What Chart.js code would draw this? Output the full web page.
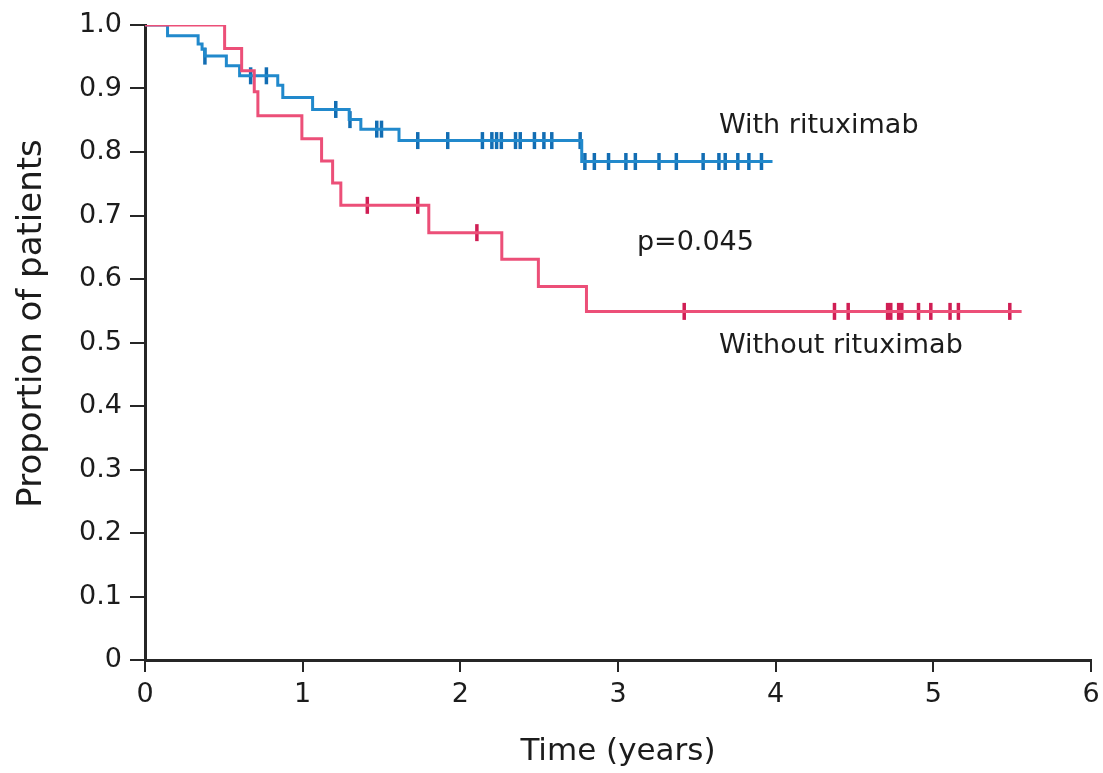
<!DOCTYPE html>
<html>
<head>
<meta charset="utf-8">
<title>Proportion of patients</title>
<script src="https://cdn.jsdelivr.net/npm/chart.js@4/dist/chart.umd.min.js"></script>
<style>
    body { margin: 0; background: #fff; }
    canvas { display: block; }
</style>
</head>
<body>
<canvas id="kmChart" width="1103" height="773"></canvas>
<script>
// Kaplan-Meier steps (time in years, proportion after each drop)
const withTimes = [0, 0.143, 0.337, 0.362, 0.379, 0.516, 0.600, 0.842, 0.874, 1.063, 1.295, 1.369, 1.611, 2.77, 3.98];
const withSurv = [1, 0.983, 0.970, 0.962, 0.951, 0.936, 0.920, 0.905, 0.886, 0.867, 0.851, 0.836, 0.818, 0.785, 0.785];
const withCensored = [0.38, 0.67, 0.77, 1.21, 1.30, 1.47, 1.50, 1.73, 1.92, 2.14, 2.20, 2.23, 2.26, 2.35, 2.38,
    2.47, 2.53, 2.58, 2.76, 2.79, 2.85, 2.94, 3.05, 3.11, 3.26, 3.37, 3.54, 3.64, 3.68, 3.76, 3.83, 3.91];

const withoutTimes = [0, 0.505, 0.613, 0.693, 0.716, 0.995, 1.12, 1.19, 1.242, 1.80, 2.263, 2.495, 2.80, 5.56];
const withoutSurv = [1, 0.963, 0.928, 0.895, 0.857, 0.821, 0.786, 0.751, 0.716, 0.673, 0.631, 0.588, 0.549, 0.549];
const withoutCensored = [1.41, 1.73, 2.105, 3.42, 4.373, 4.46, 4.71, 4.73, 4.78, 4.80, 4.906, 4.984, 5.106, 5.159, 5.485];

const xTicks = [0, 1, 2, 3, 4, 5, 6];
const yTicks = [0, 0.1, 0.2, 0.3, 0.4, 0.5, 0.6, 0.7, 0.8, 0.9, 1.0];

const labels = [
    { text: 'With rituximab', x: 3.64, y: 0.830 },
    { text: 'p=0.045', x: 3.12, y: 0.646 },
    { text: 'Without rituximab', x: 3.64, y: 0.483 }
];
const yTitle = 'Proportion of patients';

const blue = '#2189cc';
const blueDark = '#126db3';
const red = '#ec4f78';
const redDark = '#d01e54';
const axisColor = '#262626';
const textColor = '#1c1c1c';
const fontFamily = '"DejaVu Sans", sans-serif';

function toPoints(times, surv) {
    return times.map((t, i) => ({ x: t, y: surv[i] }));
}

// value of the step curve at time t
function survAt(times, surv, t) {
    let s = surv[0];
    for (let i = 0; i < times.length; i++) {
        if (times[i] <= t) s = surv[i];
    }
    return s;
}

function censorPoints(censored, times, surv) {
    return censored.map(t => ({ x: t, y: survAt(times, surv, t) }));
}

let textPlugin = {
    id: 'curveLabels',
    afterDatasetsDraw(chart) {
        const ctx = chart.ctx;
        const xs = chart.scales.x;
        const ys = chart.scales.y;
        ctx.save();
        ctx.fillStyle = textColor;
        ctx.font = '27px ' + fontFamily;
        ctx.textAlign = 'left';
        ctx.textBaseline = 'alphabetic';
        labels.forEach(l => {
            ctx.fillText(l.text, xs.getPixelForValue(l.x), ys.getPixelForValue(l.y));
        });

        // y axis title sits a little above the middle of the axis in the original
        ctx.font = '34px ' + fontFamily;
        ctx.textAlign = 'center';
        ctx.textBaseline = 'middle';
        ctx.translate(32, ys.getPixelForValue(0.53));
        ctx.rotate(-Math.PI / 2);
        ctx.fillText(yTitle, 0, 0);
        ctx.restore();
    }
};

let ctx = document.getElementById('kmChart');
let kmChart = new Chart(ctx, {
    type: 'line',
    data: {
        datasets: [
            {
                label: 'Without rituximab',
                data: toPoints(withoutTimes, withoutSurv),
                borderColor: red,
                borderWidth: 3,
                stepped: 'before',
                pointRadius: 0,
                fill: false
            },
            {
                label: 'With rituximab',
                data: toPoints(withTimes, withSurv),
                borderColor: blue,
                borderWidth: 3,
                stepped: 'before',
                pointRadius: 0,
                fill: false
            },
            {
                label: 'Without rituximab censored',
                data: censorPoints(withoutCensored, withoutTimes, withoutSurv),
                showLine: false,
                pointStyle: 'line',
                rotation: 90,
                pointRadius: 8.5,
                pointBorderWidth: 3.5,
                pointBorderColor: redDark,
                borderColor: redDark
            },
            {
                label: 'With rituximab censored',
                data: censorPoints(withCensored, withTimes, withSurv),
                showLine: false,
                pointStyle: 'line',
                rotation: 90,
                pointRadius: 8.5,
                pointBorderWidth: 3.5,
                pointBorderColor: blueDark,
                borderColor: blueDark
            }
        ]
    },
    options: {
        responsive: false,
        animation: false,
        layout: { padding: { top: 25, right: 4, left: 0, bottom: 0 } },
        plugins: {
            legend: { display: false },
            tooltip: { enabled: false }
        },
        scales: {
            x: {
                type: 'linear',
                min: 0,
                max: 6,
                afterBuildTicks: scale => { scale.ticks = xTicks.map(v => ({ value: v })); },
                afterFit: scale => { scale.height = 113; scale.paddingRight = 0; },
                grid: { drawOnChartArea: false, drawTicks: true, tickLength: 12, color: axisColor, lineWidth: 2 },
                border: { display: true, color: axisColor, width: 3 },
                ticks: { color: textColor, padding: 7, maxRotation: 0, font: { family: fontFamily, size: 27 } },
                title: {
                    display: true,
                    text: 'Time (years)',
                    color: textColor,
                    padding: { top: 0, bottom: 2 },
                    font: { family: fontFamily, size: 31 }
                }
            },
            y: {
                min: 0,
                max: 1,
                afterBuildTicks: scale => { scale.ticks = yTicks.map(v => ({ value: v })); },
                afterFit: scale => { scale.width = 145; },
                grid: { drawOnChartArea: false, drawTicks: true, tickLength: 15, color: axisColor, lineWidth: 2 },
                border: { display: true, color: axisColor, width: 3 },
                ticks: {
                    color: textColor,
                    padding: 8,
                    font: { family: fontFamily, size: 27 },
                    callback: v => v === 0 ? '0' : v.toFixed(1)
                }
            }
        }
    },
    plugins: [textPlugin]
});
</script>
</body>
</html>
